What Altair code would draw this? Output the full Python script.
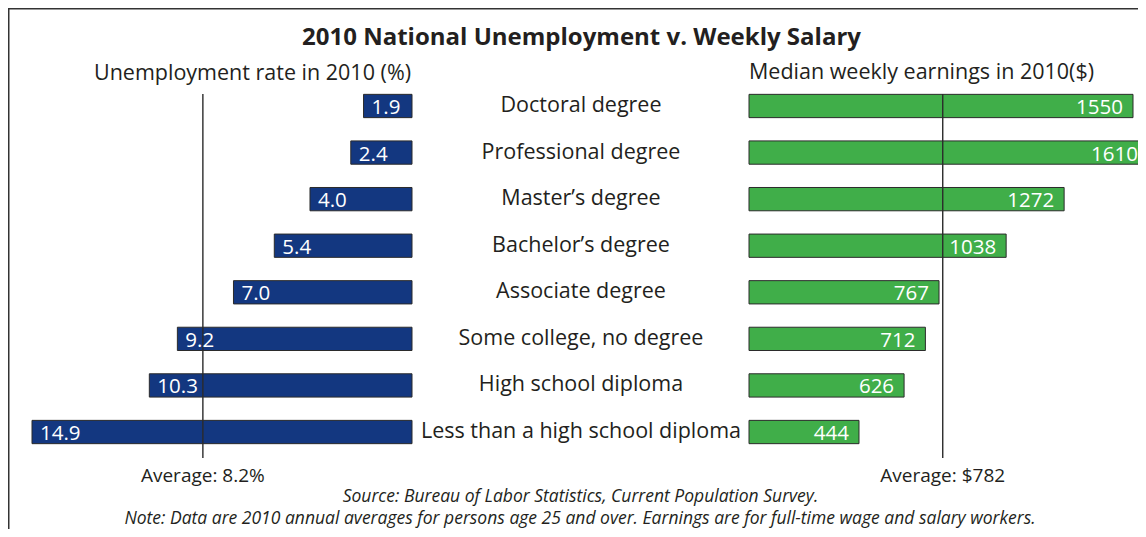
import altair as alt
import pandas as pd

# ---- data ----
degrees = [
    "Doctoral degree",
    "Professional degree",
    "Master\u2019s degree",
    "Bachelor\u2019s degree",
    "Associate degree",
    "Some college, no degree",
    "High school diploma",
    "Less than a high school diploma",
]
unemployment = [1.9, 2.4, 4.0, 5.4, 7.0, 9.2, 10.3, 14.9]
unemployment_labels = ["1.9", "2.4", "4.0", "5.4", "7.0", "9.2", "10.3", "14.9"]
earnings = [1550, 1610, 1272, 1038, 767, 712, 626, 444]
avg_unemployment = [8.2]
avg_earnings = [782]
avg_labels_unemp = ["Average: 8.2%"]
avg_labels_earn = ["Average: $782"]

title_text = "2010 National Unemployment v. Weekly Salary"
left_sub = "Unemployment rate in 2010 (%)"
right_sub = "Median weekly earnings in 2010($)"
source_text = "Source: Bureau of Labor Statistics, Current Population Survey."
note_text = ("Note: Data are 2010 annual averages for persons age 25 and over. "
             "Earnings are for full-time wage and salary workers.")

df = pd.DataFrame({
    "degree": degrees,
    "unemp": unemployment,
    "unemp_label": unemployment_labels,
    "earn": earnings,
})
avg_df = pd.DataFrame({
    "avg_unemp": avg_unemployment,
    "avg_earn": avg_earnings,
    "lab_u": avg_labels_unemp,
    "lab_e": avg_labels_earn,
})
one = pd.DataFrame({"k": [0]})

FONT = "Open Sans"
BLUE = "#133780"
GREEN = "#40ae49"
DARK = "#2b2b2b"
INK = "#231f20"

xl = alt.Scale(domain=[0, 14.9], range=[404, 24], nice=False, zero=True)
xr = alt.Scale(domain=[0, 1550], range=[741, 1125], nice=False, zero=True)
yscale = alt.Scale(domain=degrees, range=[74.7, 447.3], paddingInner=0.5, paddingOuter=0.25)


def yenc():
    return alt.Y("degree:N", scale=yscale, sort=degrees, axis=None)


base = alt.Chart(df)

left_bars = base.mark_bar(color=BLUE, stroke=DARK, strokeWidth=1).encode(
    x=alt.X("unemp:Q", scale=xl, axis=None), y=yenc()
)
right_bars = base.mark_bar(color=GREEN, stroke=DARK, strokeWidth=1).encode(
    x=alt.X("earn:Q", scale=xr, axis=None), y=yenc()
)

left_avg = alt.Chart(avg_df).mark_rule(color=DARK, strokeWidth=1.4).encode(
    x=alt.X("avg_unemp:Q", scale=xl, axis=None), y=alt.value(86), y2=alt.value(450)
)
right_avg = alt.Chart(avg_df).mark_rule(color=DARK, strokeWidth=1.4).encode(
    x=alt.X("avg_earn:Q", scale=xr, axis=None), y=alt.value(86), y2=alt.value(450)
)

left_vals = base.mark_text(align="left", baseline="middle", dx=8, dy=2, color="white",
                           font=FONT, fontSize=20.5).encode(
    x=alt.X("unemp:Q", scale=xl, axis=None), y=yenc(), text="unemp_label:N"
)
right_vals = base.mark_text(align="right", baseline="middle", dx=-10, dy=2, color="white",
                            font=FONT, fontSize=20.5).encode(
    x=alt.X("earn:Q", scale=xr, axis=None), y=yenc(), text="earn:Q"
)

cat_labels = base.mark_text(align="center", baseline="middle", color=INK,
                            font=FONT, fontSize=21.5).encode(
    x=alt.value(573), y=yenc(), text="degree:N"
)

left_avg_lab = alt.Chart(avg_df).mark_text(align="center", baseline="alphabetic", color=INK,
                                           font=FONT, fontSize=19).encode(
    x=alt.X("avg_unemp:Q", scale=xl, axis=None), y=alt.value(474), text="lab_u:N"
)
right_avg_lab = alt.Chart(avg_df).mark_text(align="center", baseline="alphabetic", color=INK,
                                            font=FONT, fontSize=19).encode(
    x=alt.X("avg_earn:Q", scale=xr, axis=None), y=alt.value(474), text="lab_e:N"
)

title = alt.Chart(one).mark_text(text=title_text, align="center", baseline="alphabetic",
                                 font=FONT, fontSize=24, fontWeight="bold",
                                 color=INK).encode(x=alt.value(573.5), y=alt.value(37))
lsub = alt.Chart(one).mark_text(text=left_sub, align="right", baseline="alphabetic",
                                font=FONT, fontSize=21.5, color=INK).encode(
    x=alt.value(403), y=alt.value(72))
rsub = alt.Chart(one).mark_text(text=right_sub, align="left", baseline="alphabetic",
                                font=FONT, fontSize=21.5, color=INK).encode(
    x=alt.value(741), y=alt.value(71))
src = alt.Chart(one).mark_text(text=source_text, align="center", baseline="alphabetic",
                               font=FONT, fontSize=17.5, fontStyle="italic",
                               color=INK).encode(x=alt.value(572.5), y=alt.value(494))
note = alt.Chart(one).mark_text(text=note_text, align="center", baseline="alphabetic",
                                font=FONT, fontSize=17.5, fontStyle="italic",
                                color=INK).encode(x=alt.value(572), y=alt.value(516))

frame_top = alt.Chart(one).mark_rule(color="#333333", strokeWidth=2).encode(
    x=alt.value(0), x2=alt.value(1130), y=alt.value(0.5))
frame_left = alt.Chart(one).mark_rule(color="#333333", strokeWidth=2).encode(
    x=alt.value(0.5), y=alt.value(0), y2=alt.value(521))

chart = alt.layer(
    frame_top, frame_left,
    left_bars, right_bars,
    left_avg, right_avg,
    left_vals, right_vals,
    cat_labels,
    left_avg_lab, right_avg_lab,
    title, lsub, rsub, src, note,
).resolve_scale(x="independent").properties(
    width=1130, height=521,
    autosize=alt.AutoSizeParams(type="none"),
    padding=0,
    background="white",
).configure_view(strokeWidth=0)

chart.save("out.html", embed_options={"renderer": "svg", "actions": False})
